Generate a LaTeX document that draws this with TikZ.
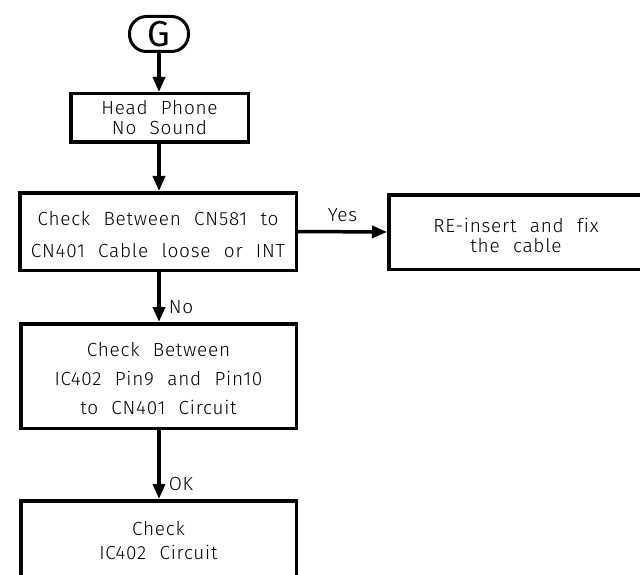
\documentclass[tikz,border=0pt]{standalone}
\usepackage{fontspec}
\setmainfont{Fira Sans Light}[LetterSpace=4,WordSpace=2.2,Ligatures=NoCommon]
\newfontfamily\gfont{Fira Sans}
\usetikzlibrary{arrows.meta}
\newcommand\mystrut[1]{\rule{0pt}{#1}}
\begin{document}
\begin{tikzpicture}[x=1pt,y=-1pt,
  box/.style={draw,line width=3.5pt,rectangle,inner sep=0pt,align=center,
    font=\fontsize{19}{20}\selectfont},
  oval/.style={draw,line width=3pt,rectangle,rounded corners=17pt,inner sep=0pt,
    minimum width=59pt,minimum height=35pt,font=\gfont\fontsize{36}{36}\selectfont},
  flow/.style={line width=3.5pt,-{Triangle[length=15pt,width=12pt]}},
  lbl/.style={font=\fontsize{19}{20}\selectfont,inner sep=0pt}]
\useasboundingbox (0,0) rectangle (640,575);
\clip (0,0) rectangle (640,575);
\fill[white] (0,0) rectangle (640,575);
\node[oval] (g) at (159,34) {G};
\node[box,minimum width=177.5pt,minimum height=48.5pt] (h) at (159.5,118) {Head Phone\\No Sound};
\node[box,minimum width=276.5pt,minimum height=77.5pt] (c) at (158,231.5) {\mystrut{21pt}Check Between CN581 to\\[12pt]CN401 Cable loose or INT};
\node[box,minimum width=254.5pt,minimum height=74.5pt] (r) at (516,232) {\mystrut{22pt}RE-insert and fix\\the cable};
\node[box,minimum width=275.5pt,minimum height=104.5pt] (p) at (158.5,376) {\mystrut{20pt}Check Between\\[9pt]IC402 Pin9 and Pin10\\[9pt]to CN401 Circuit};
\node[box,minimum width=275.5pt,minimum height=80.5pt] (k) at (158.5,541) {Check\\[4pt]IC402 Circuit};
\draw[flow] (g.south -| 159,0) -- (h.north -| 159,0);
\draw[flow] (h.south -| 159,0) -- (c.north -| 159,0);
\draw[flow] (c.east) -- (r.west) node[lbl,pos=0.5,above=8pt] (yes) {Yes};
\draw[flow] (c.south -| 159,0) -- (p.north -| 159,0) node[lbl,anchor=west,pos=0.7,xshift=8pt] (no) {No};
\draw[flow] (p.south -| 159,0) -- (k.north -| 159,0) node[lbl,anchor=west,pos=0.78,xshift=8pt] (ok) {OK};
\end{tikzpicture}
\end{document}
